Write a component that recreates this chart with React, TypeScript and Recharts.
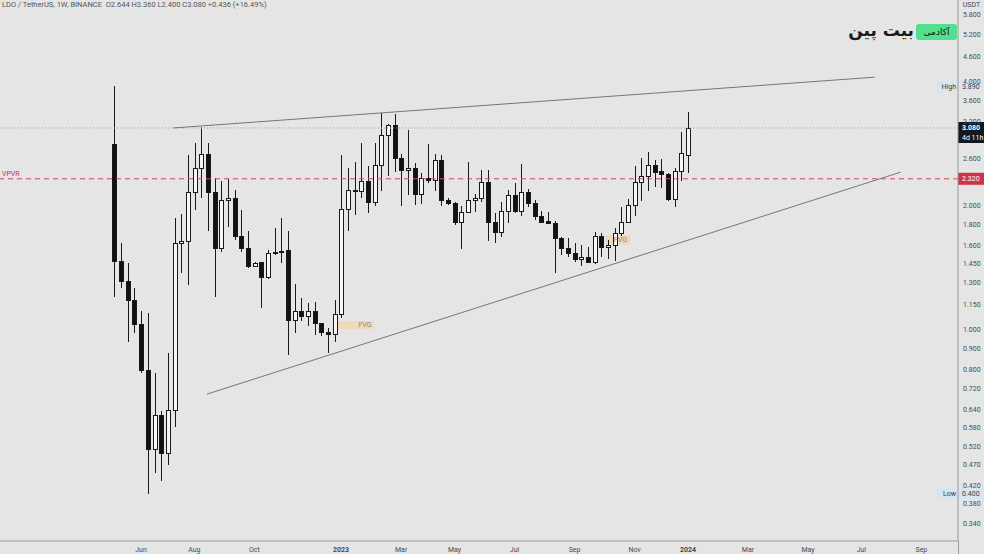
import React from "react";
import {
  ComposedChart,
  Bar,
  XAxis,
  YAxis,
  ReferenceLine,
  ReferenceArea,
} from "recharts";

// weekly LDO/USDT candles, week 0 = 2 May 2022
const opens = [
  2.82, 1.47, 1.31, 1.18, 1.03, 0.8, 0.514, 0.62, 0.503, 0.64, 1.62, 1.64, 2.15, 2.47, 2.67, 2.15, 1.58, 2.06,
  2.08, 1.69, 1.58, 1.43, 1.46, 1.34, 1.53, 1.545, 1.56, 1.057, 1.11, 1.08, 1.11, 1.035, 0.985, 0.975, 1.09,
  1.96, 2.18, 2.17, 2.29, 2.04, 2.51, 2.97, 3.13, 2.61, 2.44, 2.47, 2.13, 2.33, 2.31, 2.58, 2.06, 2.03, 1.82,
  1.93, 2.06, 2.08, 2.28, 1.82, 1.72, 1.94, 2.12, 1.94, 2.16, 2.03, 1.89, 1.83, 1.81, 1.67, 1.58, 1.53, 1.48,
  1.5, 1.46, 1.69, 1.59, 1.6, 1.71, 1.82, 2.01, 2.28, 2.36, 2.5, 2.42, 2.38, 2.07, 2.42, 2.644,
];
const highs = [
  3.89, 1.62, 1.45, 1.26, 1.11, 1.1, 0.787, 0.635, 0.88, 1.86, 1.91, 2.65, 2.83, 3.1, 2.84, 2.33, 2.29, 2.32,
  2.18, 1.95, 1.73, 1.46, 1.46, 1.56, 1.76, 1.86, 1.73, 1.29, 1.19, 1.16, 1.165, 1.04, 1.01, 1.18, 2.65,
  2.47, 2.55, 2.83, 2.49, 2.83, 3.35, 3.15, 3.33, 2.67, 3.04, 2.54, 2.4, 2.82, 2.67, 2.65, 2.08, 2.04, 1.99,
  2.55, 2.13, 2.44, 2.44, 1.92, 2.04, 2.18, 2.26, 2.52, 2.19, 2.06, 1.94, 1.93, 1.83, 1.68, 1.67, 1.62, 1.6,
  1.59, 1.72, 1.71, 1.65, 1.76, 1.98, 2.07, 2.49, 2.6, 2.69, 2.58, 2.59, 2.4, 2.47, 3.01, 3.36,
];
const lows = [
  1.2, 1.26, 0.935, 0.983, 0.787, 0.4, 0.45, 0.43, 0.47, 0.58, 1.37, 1.285, 1.95, 2.08, 1.73, 1.2, 1.545, 1.77,
  1.65, 1.54, 1.41, 1.42, 1.13, 1.33, 1.52, 1.45, 0.87, 0.98, 1.05, 1.02, 0.97, 0.965, 0.88, 0.935, 1.07,
  1.73, 1.9, 2.08, 1.92, 1.99, 2.17, 2.36, 2.41, 1.99, 2.12, 2.01, 2.02, 2.26, 2.17, 1.99, 2.0, 1.79, 1.57,
  1.92, 1.93, 2.04, 1.64, 1.62, 1.68, 1.81, 1.92, 1.88, 1.98, 1.84, 1.81, 1.8, 1.37, 1.52, 1.5, 1.46, 1.43,
  1.45, 1.44, 1.5, 1.48, 1.47, 1.69, 1.81, 1.89, 2.05, 2.17, 2.22, 2.2, 2.05, 1.98, 2.29, 2.4,
];
const closes = [
  1.47, 1.31, 1.18, 1.034, 0.8, 0.514, 0.62, 0.503, 0.64, 1.62, 1.64, 2.15, 2.47, 2.67, 2.15, 1.58, 2.06, 2.08,
  1.69, 1.58, 1.43, 1.45, 1.34, 1.53, 1.545, 1.555, 1.057, 1.11, 1.08, 1.11, 1.035, 0.985, 0.975, 1.09, 1.96,
  2.18, 2.17, 2.29, 2.04, 2.51, 2.97, 3.13, 2.61, 2.44, 2.47, 2.13, 2.33, 2.31, 2.58, 2.06, 2.03, 1.82, 1.93,
  2.06, 2.08, 2.28, 1.82, 1.72, 1.94, 2.12, 1.94, 2.16, 2.03, 1.89, 1.82, 1.81, 1.67, 1.58, 1.53, 1.48, 1.5,
  1.46, 1.69, 1.59, 1.6, 1.71, 1.82, 2.01, 2.28, 2.36, 2.5, 2.41, 2.38, 2.07, 2.42, 2.68, 3.08,
];

const monthTickWeeks = [4, 12, 21, 34, 43, 51, 60, 69, 78, 86, 95, 104, 112, 121];
const monthTickLabels = ["Jun", "Aug", "Oct", "2023", "Mar", "May", "Jul", "Sep", "Nov", "2024", "Mar", "May", "Jul", "Sep"];
const priceTicks = [0.34, 0.38, 0.42, 0.47, 0.52, 0.58, 0.64, 0.72, 0.8, 0.9, 1.0, 1.15, 1.3, 1.45, 1.6, 1.8, 2.0, 2.6, 3.2, 3.6, 4.0, 4.6, 5.2, 5.8];

// drawn lines: [week, price] pairs
const upperTrend = [[8.8, 3.08], [114, 4.09]];
const lowerTrend = [[13.9, 0.698], [117.9, 2.408]];
const fvgZones = [
  { from: 33.1, to: 39, low: 1.005, high: 1.05 },
  { from: 73.7, to: 77.3, low: 1.61, high: 1.69 },
];
const lastPrice = 3.08;
const vpvrPoc = 2.32;
const allHigh = 3.89;
const allLow = 0.4;

const data = opens.map((o, i) => ({
  week: i,
  open: o,
  high: highs[i],
  low: lows[i],
  close: closes[i],
}));

const FONT = "Roboto, 'Liberation Sans', sans-serif";
const BG = "#e5e5e5";

const Candle = (props: any) => {
  const { x, y, width, height, payload } = props;
  if (x == null || y == null) return null;
  const { open, close, high, low } = payload;
  const top = Math.min(y, y + height);
  const h = Math.abs(height);
  const span = Math.log(high) - Math.log(low);
  const toY = (v: number) => (span === 0 ? top : top + (h * (Math.log(high) - Math.log(v))) / span);
  const c = Math.round(x + width / 2);
  const bTop = Math.round(toY(Math.max(open, close)));
  const bBot = Math.round(toY(Math.min(open, close)));
  const up = close >= open;
  return (
    <g>
      <line x1={c + 0.5} x2={c + 0.5} y1={Math.round(top)} y2={Math.round(top + h)} stroke="#1a1a1a" strokeWidth={1} />
      <rect
        x={c - 1.5}
        y={bTop + 0.5}
        width={4}
        height={Math.max(bBot - bTop, 1)}
        fill={up ? "#f6f6f6" : "#111111"}
        stroke="#1a1a1a"
        strokeWidth={1}
      />
    </g>
  );
};

const MonthTick = (props: any) => {
  const { x, y, payload } = props;
  const label = monthTickLabels[monthTickWeeks.indexOf(payload.value)] || "";
  const bold = /^\d{4}$/.test(label);
  return (
    <text x={x} y={y + 11} textAnchor="middle" fontSize={7} fontWeight={bold ? 700 : 400} fill="#4a4a4a" fontFamily={FONT}>
      {label}
    </text>
  );
};

const axisTag =
  (value: string, bg: string, color: string, sub?: string, name?: string) => (props: any) => {
    const vb = props.viewBox || {};
    const right = (vb.x || 0) + (vb.width || 0);
    const yy = vb.y || 0;
    const h = sub ? 21 : name ? 11 : 12;
    const top = sub ? yy - 6 : yy - h / 2;
    return (
      <g fontFamily={FONT} fontSize={7}>
        {name && <rect x={right - 21} y={top} width={21} height={h} fill="#d8e5f2" />}
        {name && (
          <text x={right - 2} y={yy + 2.5} textAnchor="end" fill="#3a3a3a">
            {name}
          </text>
        )}
        <rect x={right} y={top} width={26} height={h} fill={bg} />
        <text x={right + 4} y={yy + 2.5} fill={color} fontWeight={sub ? 700 : 400}>
          {value}
        </text>
        {sub && (
          <text x={right + 4} y={yy + 12.5} fill={color}>
            {sub}
          </text>
        )}
      </g>
    );
  };

const vpvrLabel = (props: any) => {
  const vb = props.viewBox || {};
  return (
    <text x={2} y={(vb.y || 0) - 3} fontSize={7} fill="#c2364b" fontFamily={FONT}>
      VPVR
    </text>
  );
};

export default function App() {
  return (
    <div style={{ position: "absolute", left: 0, top: 0, width: 984, height: 554, background: BG, fontFamily: FONT }}>
      <ComposedChart width={984} height={554} data={data} margin={{ top: 0, right: 0, bottom: 0, left: 0 }}>
        <XAxis
          dataKey="week"
          type="number"
          domain={[-17.14, 126.49]}
          allowDataOverflow
          ticks={monthTickWeeks}
          interval={0}
          tick={<MonthTick />}
          tickLine={false}
          tickSize={0}
          tickMargin={0}
          height={13}
          axisLine={{ stroke: "#9a9a9a" }}
        />
        <YAxis
          orientation="right"
          scale="log"
          domain={[0.3076, 6.29]}
          allowDataOverflow
          ticks={priceTicks}
          interval={0}
          tickFormatter={(v: number) => v.toFixed(3)}
          tick={{ fontSize: 7, fill: "#4a4a4a", fontFamily: FONT }}
          tickLine={false}
          tickSize={0}
          tickMargin={5}
          width={26}
          axisLine={{ stroke: "#9a9a9a" }}
        />
        {fvgZones.map((z, i) => (
          <ReferenceArea
            key={`fvg-${i}`}
            x1={z.from}
            x2={z.to}
            y1={z.low}
            y2={z.high}
            fill="#f3d6ae"
            fillOpacity={0.8}
            stroke="none"
            label={{ value: "FVG", position: "insideRight", offset: 3, fontSize: 7, fill: "#8a8a8a", fontFamily: FONT }}
          />
        ))}
        <ReferenceLine y={lastPrice} stroke="#9a9a9a" strokeDasharray="1 2" />
        <ReferenceLine y={vpvrPoc} stroke="#d4485c" strokeDasharray="5 4" label={vpvrLabel} />
        <ReferenceLine
          segment={[
            { x: upperTrend[0][0], y: upperTrend[0][1] },
            { x: upperTrend[1][0], y: upperTrend[1][1] },
          ]}
          stroke="#767676"
          strokeWidth={1}
        />
        <ReferenceLine
          segment={[
            { x: lowerTrend[0][0], y: lowerTrend[0][1] },
            { x: lowerTrend[1][0], y: lowerTrend[1][1] },
          ]}
          stroke="#767676"
          strokeWidth={1}
        />
        <Bar
          dataKey={(d: any) => [d.low, d.high]}
          barSize={5}
          shape={<Candle />}
          isAnimationActive={false}
        />
        <ReferenceLine y={allHigh} stroke="none" label={axisTag("3.890", "#d8e5f2", "#3a3a3a", undefined, "High")} />
        <ReferenceLine y={allLow} stroke="none" label={axisTag("0.400", "#d8e5f2", "#3a3a3a", undefined, "Low")} />
        <ReferenceLine y={vpvrPoc} stroke="none" label={axisTag("2.320", "#d03247", "#ffffff")} />
        <ReferenceLine y={lastPrice} stroke="none" label={axisTag("3.080", "#131722", "#ffffff", "4d 11h")} />
      </ComposedChart>

      <div style={{ position: "absolute", left: 958, top: 541, width: 1, height: 13, background: "#9a9a9a" }} />
      <div style={{ position: "absolute", left: 2, top: 0, fontSize: 7.5, lineHeight: "9px", color: "#555", whiteSpace: "nowrap" }}>
        LDO / TetherUS, 1W, BINANCE&nbsp; O2.644 H3.360 L2.400 C3.080 +0.436 (+16.49%)
      </div>
      <div
        style={{
          position: "absolute",
          left: 959,
          top: 0,
          width: 25,
          height: 11,
          background: BG,
          fontSize: 7,
          lineHeight: "11px",
          color: "#444",
          textAlign: "center",
        }}
      >
        USDT
      </div>
      <div
        style={{
          position: "absolute",
          left: 916,
          top: 24,
          width: 41,
          height: 16,
          borderRadius: 3,
          background: "#52e08e",
          fontSize: 9,
          lineHeight: "16px",
          textAlign: "center",
          color: "#111",
          fontFamily: "'DejaVu Sans', sans-serif",
          direction: "rtl",
        }}
      >
        آکادمی
      </div>
      <div
        style={{
          position: "absolute",
          left: 850,
          top: 19,
          width: 64,
          fontSize: 17,
          fontWeight: 700,
          lineHeight: "22px",
          textAlign: "center",
          color: "#1a1a1a",
          fontFamily: "'DejaVu Sans', sans-serif",
          direction: "rtl",
          whiteSpace: "nowrap",
        }}
      >
        بیت پین
      </div>
    </div>
  );
}
